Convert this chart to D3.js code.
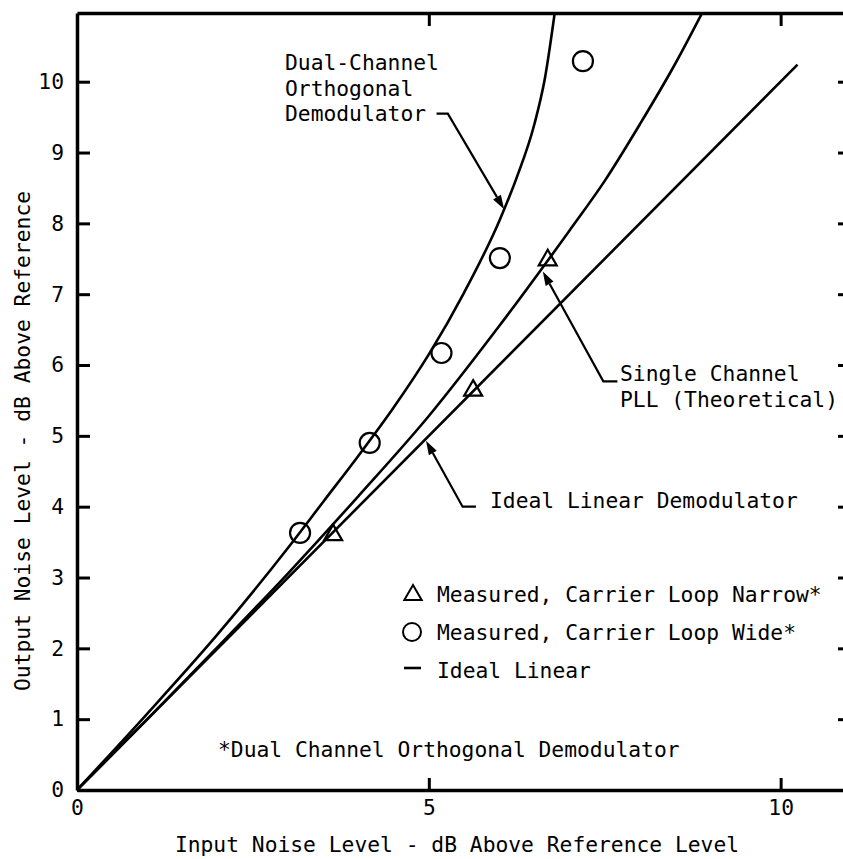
<!DOCTYPE html>
<html><head><meta charset="utf-8">
<script src="https://cdn.jsdelivr.net/npm/d3@7"></script>
<style>
body{margin:0;background:#fff}
svg{display:block}
text{font-family:"DejaVu Sans Mono",monospace;font-size:21.3px;fill:#000}
</style>
</head><body>
<svg id="c" width="843" height="859"></svg>
<script>
// ---- data ----
const xTickValues = [0, 5, 10];
const yTickValues = [0, 1, 2, 3, 4, 5, 6, 7, 8, 9, 10];
const idealX = [0, 10.24];
const idealY = [0, 10.24];
const pllX = [0, 1, 2, 3, 4, 5, 6, 7, 7.5, 8, 8.5, 8.9];
const pllY = [0, 1, 2.02, 3.06, 4.15, 5.28, 6.55, 7.9, 8.6, 9.4, 10.25, 11];
const dualX = [0, 1, 2, 3, 3.5, 4, 4.5, 5, 5.5, 6, 6.25, 6.5, 6.65, 6.8];
const dualY = [0, 1.08, 2.2, 3.42, 4.07, 4.72, 5.4, 6.15, 7.02, 8.03, 8.65, 9.4, 10.05, 11.05];
const narrowX = [3.64, 5.63, 6.69];
const narrowY = [3.6, 5.64, 7.48];
const wideX = [3.17, 4.16, 5.18, 6.01, 7.19];
const wideY = [3.63, 4.9, 6.17, 7.51, 10.29];
const legendLabels = ["Measured, Carrier Loop Narrow*", "Measured, Carrier Loop Wide*", "Ideal Linear"];

// ---- layout ----
const L = 77, R = 851, T = 13, B = 790;
const svg = d3.select("#c");
const x = d3.scaleLinear().domain([0, 11]).range([L, R]);
const y = d3.scaleLinear().domain([0, 10.97]).range([B, T]);

svg.append("defs").append("clipPath").attr("id", "clip")
  .append("rect").attr("x", L).attr("y", T).attr("width", R - L).attr("height", B - T);

const zip = (a, b) => a.map((v, i) => [v, b[i]]);
const line = d3.line().x(d => x(d[0])).y(d => y(d[1])).curve(d3.curveMonotoneX);

const plot = svg.append("g").attr("clip-path", "url(#clip)");
[[idealX, idealY], [pllX, pllY], [dualX, dualY]].forEach(([a, b]) => {
  plot.append("path").datum(zip(a, b)).attr("d", line)
    .attr("fill", "none").attr("stroke", "#000").attr("stroke-width", 2.6);
});

// markers
plot.selectAll(".wide").data(zip(wideX, wideY)).join("circle")
  .attr("cx", d => x(d[0])).attr("cy", d => y(d[1])).attr("r", 10)
  .attr("fill", "none").attr("stroke", "#000").attr("stroke-width", 2.2);
const tri = d3.symbol().type(d3.symbolTriangle).size(140);
plot.selectAll(".narrow").data(zip(narrowX, narrowY)).join("path")
  .attr("d", tri).attr("transform", d => `translate(${x(d[0])},${y(d[1])})`)
  .attr("fill", "none").attr("stroke", "#000").attr("stroke-width", 2.2);

// axes
const fs = "21.3px", ff = '"DejaVu Sans Mono",monospace';
function styleAxis(g, keepText) {
  g.select(".domain").attr("stroke", "#000").attr("stroke-width", 3.5);
  g.selectAll(".tick line").attr("stroke", "#000").attr("stroke-width", 3);
  g.selectAll(".tick text").attr("font-size", fs).attr("font-family", ff).attr("fill", "#000");
  if (!keepText) g.selectAll(".tick text").remove();
}
svg.append("g").attr("transform", `translate(0,${B})`)
  .call(d3.axisBottom(x).tickValues(xTickValues).tickSizeInner(-12).tickSizeOuter(0).tickPadding(10).tickFormat(d3.format("d")))
  .call(g => styleAxis(g, true));
svg.append("g").attr("transform", `translate(0,${T})`)
  .call(d3.axisTop(x).tickValues(xTickValues.filter(v => v > 0)).tickSizeInner(-13).tickSizeOuter(0))
  .call(g => styleAxis(g, false));
svg.append("g").attr("transform", `translate(${L},0)`)
  .call(d3.axisLeft(y).tickValues(yTickValues).tickSizeInner(-13).tickSizeOuter(0).tickPadding(13).tickFormat(d3.format("d")))
  .call(g => styleAxis(g, true));
svg.append("g").attr("transform", `translate(${R},0)`)
  .call(d3.axisRight(y).tickValues(yTickValues.filter(v => v > 0)).tickSizeInner(-13).tickSizeOuter(0))
  .call(g => styleAxis(g, false));
svg.selectAll(".tick text").attr("font-family", ff).attr("font-size", fs);

// axis titles
svg.append("text").attr("x", 457).attr("y", 852).attr("text-anchor", "middle")
  .text("Input Noise Level - dB Above Reference Level");
svg.append("text").attr("transform", "translate(30,441) rotate(-90)").attr("text-anchor", "middle")
  .text("Output Noise Level - dB Above Reference");

// annotations
function leader(pts) {
  const p = pts.map(d => [x(d[0]), y(d[1])]);
  const n = p.length;
  const [tx, ty] = p[n - 1], [px, py] = p[n - 2];
  const ang = Math.atan2(ty - py, tx - px);
  const len = 14, hw = 4.5;
  const bx = tx - len * Math.cos(ang), by = ty - len * Math.sin(ang);
  const q = p.slice(0, n - 1).concat([[bx, by]]);
  svg.append("path").attr("d", d3.line()(q)).attr("fill", "none").attr("stroke", "#000").attr("stroke-width", 2.2);
  const nx = -Math.sin(ang) * hw, ny = Math.cos(ang) * hw;
  svg.append("path").attr("d", `M${tx},${ty}L${bx + nx},${by + ny}L${bx - nx},${by - ny}Z`).attr("fill", "#000");
}
leader([[5.11, 9.55], [5.27, 9.55], [6.07, 8.2]]);
leader([[7.68, 5.77], [7.48, 5.77], [6.62, 7.32]]);
leader([[5.67, 4.0], [5.48, 4.0], [4.96, 4.93]]);

function label(lines, x0, y0, dy) {
  const t = svg.append("text").attr("x", x0).attr("y", y0);
  lines.forEach((s, i) => t.append("tspan").attr("x", x0).attr("dy", i ? dy : 0).text(s));
}
label(["Dual-Channel", "Orthogonal", "Demodulator"], 285, 70, 25.5);
label(["Single Channel", "PLL (Theoretical)"], 620, 381, 25.5);
label(["Ideal Linear Demodulator"], 490, 508, 0);
label(["*Dual Channel Orthogonal Demodulator"], 218, 757, 0);

// legend
const lg = svg.append("g");
const legY = [594, 632, 670];
lg.append("path").attr("d", d3.symbol().type(d3.symbolTriangle).size(130)())
  .attr("transform", `translate(413,${legY[0] + 1})`).attr("fill", "none").attr("stroke", "#000").attr("stroke-width", 2);
lg.append("circle").attr("cx", 412).attr("cy", legY[1]).attr("r", 9)
  .attr("fill", "none").attr("stroke", "#000").attr("stroke-width", 2);
lg.append("line").attr("x1", 404).attr("x2", 421).attr("y1", legY[2] - 2).attr("y2", legY[2] - 2)
  .attr("stroke", "#000").attr("stroke-width", 2.6);
legendLabels.forEach((s, i) => {
  lg.append("text").attr("x", 437).attr("y", legY[i] + 8).text(s);
});
</script>
</body></html>
